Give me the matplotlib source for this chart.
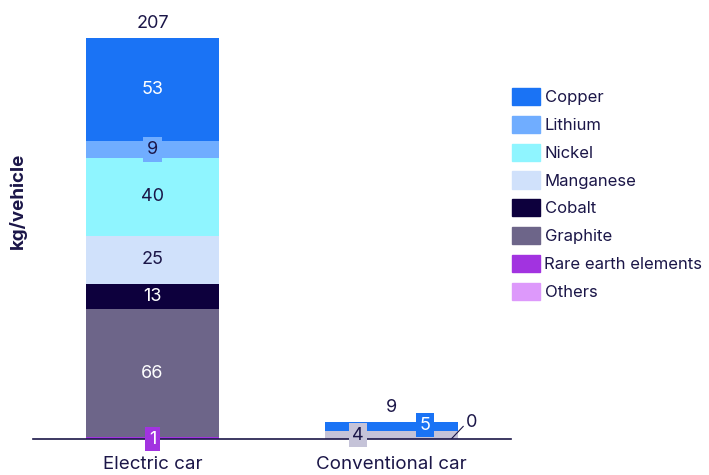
import matplotlib
matplotlib.use("Agg")
import matplotlib.pyplot as plt
from matplotlib.patches import Patch

plt.rcParams['font.family'] = ['Inter', 'DejaVu Sans']

# data
cars = ['Electric car', 'Conventional car']
minerals = ['Copper', 'Lithium', 'Nickel', 'Manganese', 'Cobalt', 'Graphite',
            'Rare earth elements', 'Others']
colors = ['#1a73f5', '#70adff', '#8ff5ff', '#d0e1fb', '#0d003d', '#6d6589',
          '#a233e0', '#dd99fb']
# stack order bottom -> top for each car
electric = [('Rare earth elements', 1), ('Graphite', 66), ('Cobalt', 13),
            ('Manganese', 25), ('Nickel', 40), ('Lithium', 9), ('Copper', 53)]
conventional = [('Manganese', 4), ('Copper', 5), ('Others', 0)]
totals = [207, 9]
conv_grey = '#c5c3d8'

text_col = '#1b1648'
cmap = dict(zip(minerals, colors))
fs = 13

fig = plt.figure(figsize=(7.09, 4.75), dpi=100)
ax = fig.add_axes([33/709, 1 - 439/475, (511-33)/709, (439-30)/475])
ax.set_xlim(-0.5, 1.5)
ax.set_ylim(0, 409/1.937)
w = 0.556

def label(x, y, s, fc, tc, box=False):
    kw = dict(ha='center', va='center', fontsize=fs, color=tc)
    if box:
        kw['bbox'] = dict(boxstyle='square,pad=0.2', fc=fc, ec='none')
    ax.text(x, y, s, **kw)

# electric car
bottom = 0
for name, v in electric:
    ax.bar(0, v, w, bottom=bottom, color=cmap[name], linewidth=0)
    bottom += v
bottom = 0
for name, v in electric:
    c = cmap[name]
    dark = name in ('Copper', 'Cobalt', 'Graphite', 'Rare earth elements')
    tc = 'white' if dark else text_col
    if name == 'Rare earth elements':
        label(0, 0, str(v), c, tc, box=True)
    elif name == 'Lithium':
        label(0, bottom + v/2, str(v), c, tc, box=True)
    else:
        label(0, bottom + v/2, str(v), c, tc)
    bottom += v

# conventional car
bottom = 0
for name, v in conventional:
    c = conv_grey if name == 'Manganese' else cmap[name]
    ax.bar(1, v, w, bottom=bottom, color=c, linewidth=0)
    bottom += v
label(1 - 0.14, 2.0, str(conventional[0][1]), conv_grey, text_col, box=True)
label(1 + 0.14, 7.2, str(conventional[1][1]), cmap['Copper'], 'white', box=True)
ax.plot([1 + 0.25, 1 + 0.30], [0, 6.5], color=text_col, lw=0.8)
ax.text(1 + 0.31, 8.5, str(conventional[2][1]), ha='left', va='center',
        fontsize=fs, color=text_col)

for i, t in enumerate(totals):
    ax.text(i, t + 3, str(t), ha='center', va='bottom', fontsize=fs,
            color=text_col)

for s in ['top', 'right', 'left']:
    ax.spines[s].set_visible(False)
ax.spines['bottom'].set_color(text_col)
ax.spines['bottom'].set_linewidth(1.2)
ax.set_yticks([])
ax.set_xticks([0, 1])
ax.set_xticklabels(cars, fontsize=13.5, color=text_col)
ax.tick_params(axis='x', length=0, pad=12)
fig.text(18/709, 1 - 201/475, 'kg/vehicle', rotation=90, ha='center',
         va='center', fontsize=13.5, fontweight='bold', color=text_col)

handles = [Patch(color=c, label=m) for m, c in zip(minerals, colors)]
fig.legend(handles=handles, loc='upper left', bbox_to_anchor=(512/709, 1 - 88/475),
           frameon=False, fontsize=12, labelcolor=text_col, handlelength=1.65,
           handleheight=1.2, handletextpad=0.3, labelspacing=0.64,
           borderaxespad=0, borderpad=0)

fig.savefig('out.png', dpi=100)
